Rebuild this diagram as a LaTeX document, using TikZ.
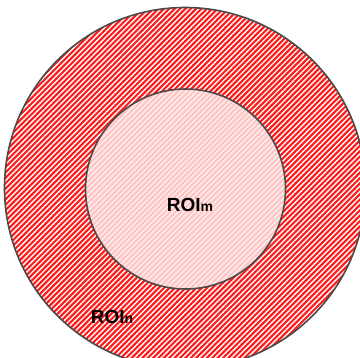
\documentclass[tikz,border=0pt]{standalone}
\usepackage{fontspec}
\setmainfont{Liberation Sans}
\definecolor{roired}{HTML}{FF1A1A}
\definecolor{roipink}{HTML}{FFC4C4}
\definecolor{rim}{HTML}{4A4A4A}
\usetikzlibrary{patterns.meta}

\begin{document}
\begin{tikzpicture}[
  x=1bp, y=-1bp,
  ring/.style={circle, inner sep=0pt, draw=rim, line width=1.6bp},
  hatch/.style={pattern={Lines[angle=45, distance=3.8bp, line width=1.4bp]},
                pattern color=white},
  roi/.style={font=\bfseries\fontsize{19bp}{21bp}\selectfont, inner sep=0pt},
]
\useasboundingbox (0,0) rectangle (360,358);
\clip (0,0) rectangle (360,358);
% outer region
\node[ring, minimum size=361bp, preaction={fill=roired}, hatch] (outer) at (185,188) {};
% inner region
\node[ring, minimum size=200bp, preaction={fill=roipink}, hatch,
      pattern color=white!75!roipink] (inner) at (185.5,189) {};
\node[roi] (roim) at (190,205) {ROI{\fontsize{14bp}{16bp}\selectfont m}};
\node[roi] (roin) at (112,317) {ROI{\fontsize{14bp}{16bp}\selectfont n}};
\end{tikzpicture}
\end{document}
